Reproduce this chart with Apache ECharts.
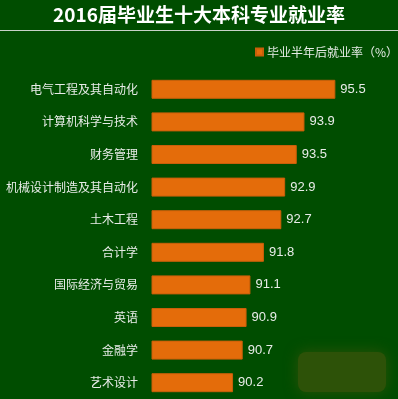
<!DOCTYPE html>
<html><head><meta charset="utf-8">
<script src="https://cdn.jsdelivr.net/npm/echarts@6/dist/echarts.min.js"></script>
<style>html,body{margin:0;padding:0;background:#004d00;}#c{width:398px;height:399px;}</style>
</head><body><div id="c"></div>
<script>
var categories = ['电气工程及其自动化','计算机科学与技术','财务管理','机械设计制造及其自动化','土木工程','合计学','国际经济与贸易','英语','金融学','艺术设计'];
var values = [95.5, 93.9, 93.5, 92.9, 92.7, 91.8, 91.1, 90.9, 90.7, 90.2];
var seriesName = '毕业半年后就业率（%）';
var titleText = '2016届毕业生十大本科专业就业率';

var chart = echarts.init(document.getElementById('c'), null, {renderer:'canvas'});
chart.setOption({
  backgroundColor: '#004d00',
  animation: false,
  title: {
    text: titleText, left: 'center', top: 0,
    textStyle: {color:'#ffffff', fontSize: 19, fontWeight: 'bold', fontFamily: 'Noto Sans CJK SC'}
  },
  graphic: [
    {type:'line', shape:{x1:0,y1:30.5,x2:398,y2:30.5}, style:{stroke:'#c8d2c8', lineWidth:1}},
    {type:'rect', shape:{x:298,y:352,width:88,height:40,r:8}, style:{fill:'#2d5208', shadowBlur:14, shadowColor:'#2d5208'}, z:-1}
  ],
  legend: {
    data: [seriesName], left: 250, top: 41, itemWidth: 7, itemHeight: 7, itemGap: 5,
    icon: 'rect',
    textStyle: {color:'#e6ece6', fontSize: 12, fontFamily: 'Noto Sans CJK SC', padding:[0,0,0,-1]}
  },
  grid: {left: 152, top: 73, width: 231.6, height: 329, containLabel: false},
  xAxis: {type:'value', min: 86, max: 98, show: false},
  yAxis: {
    type:'category', data: categories, inverse: true,
    axisLine:{show:false}, axisTick:{show:false},
    axisLabel:{color:'#e8ece8', fontSize:12, margin:14, fontFamily:'Noto Sans CJK SC'}
  },
  series: [{
    name: seriesName, type:'bar', data: values, barWidth: 19,
    itemStyle:{color:'#e46c0a', borderColor:'#c95f0a', borderWidth:1},
    label:{show:true, position:'right', distance:5, color:'#e8ece8', fontSize:13, fontFamily:'Liberation Sans'}
  }]
});
</script></body></html>
